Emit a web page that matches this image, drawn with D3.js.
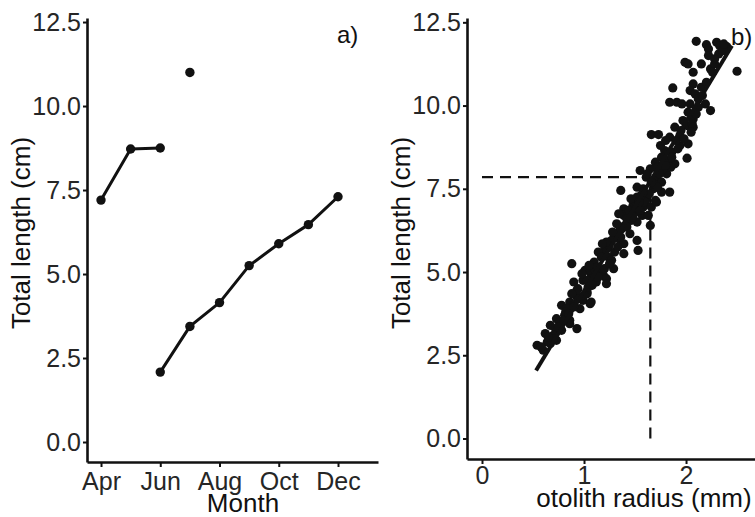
<!DOCTYPE html>
<html>
<head>
<meta charset="utf-8">
<script src="https://cdn.jsdelivr.net/npm/d3@7/dist/d3.min.js"></script>
<style>
  html, body { margin: 0; padding: 0; background: #ffffff; }
  svg { display: block; }
  text { font-family: "Liberation Sans", Arial, sans-serif; }
</style>
</head>
<body>
<svg id="fig" width="755" height="517"></svg>
<script>
// ---------- panel a: mean total length by month ----------
const monthTicks = [4, 6, 8, 10, 12];
const monthTickLabels = ["Apr", "Jun", "Aug", "Oct", "Dec"];

// earlier cohort (connected)
const cohortA_month = [4, 5, 6];
const cohortA_length = [7.2, 8.72, 8.75];
// single sample, not connected
const singleMonth = [7];
const singleLength = [11.0];
// new cohort (connected)
const cohortB_month = [6, 7, 8, 9, 10, 11, 12];
const cohortB_length = [2.08, 3.44, 4.15, 5.25, 5.9, 6.47, 7.3];

const lengthTicks = [0, 2.5, 5, 7.5, 10, 12.5];

// ---------- panel b: total length vs otolith radius ----------
const radiusTicks = [0, 1, 2];
const otolithRadius = [
  2.10, 2.20, 2.22, 2.30, 2.33, 2.22, 2.32, 2.40, 2.50, 1.99,
  2.02, 2.15, 2.07, 2.24, 2.28, 1.87, 2.07, 2.04, 2.09, 1.84,
  1.91, 1.96, 2.04, 2.19, 2.24, 2.02, 2.07, 1.89, 2.01, 2.06,
  2.07, 1.66, 1.73, 1.84, 1.94, 2.02, 1.94, 1.79, 1.86, 2.01,
  1.76, 1.70, 1.79, 1.89, 1.55, 1.65, 1.73, 1.81, 1.61, 1.70,
  1.76, 1.36, 1.52, 1.58, 1.68, 1.76, 1.84, 1.52, 1.61, 1.70,
  1.48, 1.58, 1.39, 1.39, 1.34, 1.52, 1.60, 1.66, 1.71, 1.57,
  1.63, 1.52, 1.65, 1.37, 1.40, 1.30, 1.35, 1.45, 1.27, 1.34,
  1.39, 1.52, 1.53, 1.39, 1.24, 1.19, 1.14, 1.17, 1.24, 1.29,
  0.88, 1.01, 1.06, 1.11, 1.16, 1.19, 1.06, 1.12, 1.22, 0.99,
  0.94, 1.03, 0.93, 0.99, 1.06, 0.86, 0.78, 0.83, 0.96, 0.81,
  0.73, 0.86, 0.76, 0.72, 0.93, 0.67, 0.62, 0.70, 0.73, 0.67,
  0.54, 0.60, 1.03, 1.12, 1.22, 0.93, 1.03, 1.07, 0.83, 0.76,
  0.86, 1.75, 1.80, 1.90, 1.95, 1.82, 1.72, 1.78, 1.85, 1.62,
  1.68, 1.72, 1.64, 1.56, 1.46, 1.44, 1.50, 1.46, 1.42, 1.55,
  1.32, 1.28, 1.22, 1.18, 1.30, 1.27, 1.10, 1.13, 1.05, 0.98,
  0.90, 0.88, 0.90, 0.82, 0.78, 0.70, 0.64, 2.15, 2.12, 2.28,
  2.36, 2.12, 1.97, 2.37, 0.58, 0.65, 0.75, 0.80, 0.85, 0.90,
  0.95, 1.00, 1.04, 1.08, 1.14, 1.20, 1.25, 1.33, 1.36, 1.42,
  1.48, 1.54, 1.58, 1.66, 1.74, 1.80, 1.86, 1.92, 1.98, 2.05,
  2.10, 2.16, 2.20, 2.26
];
const totalLength = [
  11.93, 11.83, 11.70, 11.90, 11.80, 11.50, 11.55, 11.77, 11.03, 11.30,
  11.25, 11.25, 11.00, 11.10, 11.25, 10.53, 10.65, 10.45, 10.35, 10.10,
  10.10, 10.05, 10.05, 10.05, 9.85, 9.80, 9.60, 9.35, 9.40, 9.45,
  9.35, 9.13, 9.13, 9.05, 9.10, 8.85, 8.80, 8.65, 8.60, 8.42,
  8.45, 8.30, 8.25, 8.25, 8.05, 8.10, 8.05, 7.95, 7.85, 7.80,
  7.70, 7.45, 7.55, 7.50, 7.50, 7.40, 7.40, 7.25, 7.20, 7.15,
  7.00, 6.95, 6.90, 6.70, 6.75, 7.05, 7.10, 6.95, 7.10, 6.70,
  6.70, 6.50, 6.40, 6.30, 6.40, 6.15, 6.25, 6.15, 5.95, 6.00,
  5.85, 5.95, 5.65, 5.55, 5.75, 5.60, 5.60, 5.45, 5.45, 5.10,
  5.25, 5.05, 5.00, 5.05, 4.95, 4.90, 4.80, 4.80, 4.80, 4.75,
  4.50, 4.40, 4.25, 4.15, 4.05, 4.10, 4.00, 3.90, 3.90, 3.70,
  3.60, 3.55, 3.40, 3.30, 3.30, 3.40, 3.15, 3.10, 2.95, 2.85,
  2.80, 2.65, 4.75, 4.70, 4.65, 4.45, 4.35, 4.10, 3.65, 3.50,
  3.45, 8.80, 8.95, 8.95, 9.25, 8.35, 8.15, 8.10, 8.15, 7.95,
  7.65, 7.55, 7.35, 7.30, 7.20, 6.85, 6.80, 6.55, 6.60, 6.85,
  6.45, 6.20, 5.90, 5.85, 5.60, 5.35, 5.30, 5.15, 5.20, 4.95,
  4.70, 4.35, 4.00, 3.80, 3.25, 3.00, 2.90, 10.55, 10.20, 11.40,
  11.65, 9.95, 9.55, 11.85, 2.75, 3.05, 3.35, 3.55, 3.75, 3.95,
  4.20, 4.30, 4.55, 4.60, 4.85, 5.10, 5.25, 5.75, 6.05, 6.35,
  6.65, 7.10, 7.40, 7.70, 7.95, 8.20, 8.45, 8.70, 9.00, 9.20,
  9.75, 10.30, 10.70, 11.00
];

// linear fit of length on radius, drawn across its fitted span
const fitIntercept = -0.65;
const fitSlope = 5.08;
const fitSpan = [0.53, 2.45];

// back-calculation guide: radius -> length
const guideRadius = 1.65;
const guideLength = 7.85;

// ---------- drawing ----------
const svg = d3.select("#fig");
const ink = "#111111";
const tickInk = "#262626";

function styleAxis(g) {
  g.select(".domain").attr("stroke", ink).attr("stroke-width", 2.6);
  g.selectAll(".tick line").attr("stroke", ink).attr("stroke-width", 2);
  g.selectAll(".tick text")
    .attr("fill", tickInk)
    .style("font-size", "25px")
    .style("font-family", "'Liberation Sans', Arial, sans-serif");
}

// ----- panel a -----
const xa = d3.scaleLinear().domain([3.527, 13.35]).range([87, 378]);
const ya = d3.scaleLinear().domain([-0.595, 12.62]).range([462, 18]);

const pa = svg.append("g");

pa.append("g")
  .attr("transform", `translate(0,${ya.range()[0]})`)
  .call(d3.axisBottom(xa).tickValues(monthTicks)
    .tickFormat((d, i) => monthTickLabels[i])
    .tickSize(5).tickSizeOuter(0).tickPadding(5))
  .call(styleAxis);

pa.append("g")
  .attr("transform", `translate(${xa.range()[0]},0)`)
  .call(d3.axisLeft(ya).tickValues(lengthTicks)
    .tickFormat(d3.format(".1f"))
    .tickSize(4).tickSizeOuter(0).tickPadding(2))
  .call(styleAxis);

const lineA = d3.line().x(d => xa(d[0])).y(d => ya(d[1]));

[[cohortA_month, cohortA_length], [cohortB_month, cohortB_length]].forEach(([m, l]) => {
  const pts = m.map((v, i) => [v, l[i]]);
  pa.append("path").datum(pts)
    .attr("d", lineA)
    .attr("fill", "none").attr("stroke", ink)
    .attr("stroke-width", 3).attr("stroke-linejoin", "round");
  pa.selectAll(null).data(pts).enter().append("circle")
    .attr("cx", d => xa(d[0])).attr("cy", d => ya(d[1]))
    .attr("r", 4.7).attr("fill", ink);
});

pa.selectAll(null).data(singleMonth.map((v, i) => [v, singleLength[i]])).enter()
  .append("circle")
  .attr("cx", d => xa(d[0])).attr("cy", d => ya(d[1]))
  .attr("r", 4.7).attr("fill", ink);

pa.append("text").attr("x", 337).attr("y", 43)
  .attr("fill", ink).style("font-size", "24px").text("a)");

pa.append("text")
  .attr("transform", `translate(30,233) rotate(-90)`)
  .attr("text-anchor", "middle").attr("fill", ink)
  .style("font-size", "26px").text("Total length (cm)");

pa.append("text").attr("x", 243).attr("y", 512)
  .attr("text-anchor", "middle").attr("fill", ink)
  .style("font-size", "26px").text("Month");

// ----- panel b -----
const xb = d3.scaleLinear().domain([-0.147, 2.676]).range([467, 755]);
const yb = d3.scaleLinear().domain([-0.616, 12.63]).range([459, 18]);

const pb = svg.append("g");

pb.append("g")
  .attr("transform", `translate(0,${yb.range()[0]})`)
  .call(d3.axisBottom(xb).tickValues(radiusTicks)
    .tickFormat(d3.format("d"))
    .tickSize(5).tickSizeOuter(0).tickPadding(2))
  .call(styleAxis);

pb.append("g")
  .attr("transform", `translate(${xb.range()[0]},0)`)
  .call(d3.axisLeft(yb).tickValues(lengthTicks)
    .tickFormat(d3.format(".1f"))
    .tickSize(4).tickSizeOuter(0).tickPadding(2))
  .call(styleAxis);

// dashed guides
const guide = pb.append("g").attr("stroke", ink).attr("stroke-width", 2.2)
  .attr("stroke-dasharray", "11,7").attr("fill", "none");
guide.append("line")
  .attr("x1", xb(0)).attr("x2", xb(guideRadius))
  .attr("y1", yb(guideLength)).attr("y2", yb(guideLength));
guide.append("line")
  .attr("x1", xb(guideRadius)).attr("x2", xb(guideRadius))
  .attr("y1", yb(0)).attr("y2", yb(guideLength));

// observations
pb.selectAll(null).data(otolithRadius.map((r, i) => [r, totalLength[i]])).enter()
  .append("circle")
  .attr("cx", d => xb(d[0])).attr("cy", d => yb(d[1]))
  .attr("r", 4.6).attr("fill", ink);

// fitted line
pb.append("line")
  .attr("x1", xb(fitSpan[0])).attr("y1", yb(fitIntercept + fitSlope * fitSpan[0]))
  .attr("x2", xb(fitSpan[1])).attr("y2", yb(fitIntercept + fitSlope * fitSpan[1]))
  .attr("stroke", ink).attr("stroke-width", 4);

pb.append("text").attr("x", 731).attr("y", 45)
  .attr("fill", ink).style("font-size", "24px").text("b)");

pb.append("text")
  .attr("transform", `translate(410,233) rotate(-90)`)
  .attr("text-anchor", "middle").attr("fill", ink)
  .style("font-size", "26px").text("Total length (cm)");

pb.append("text").attr("x", 644).attr("y", 507)
  .attr("text-anchor", "middle").attr("fill", ink)
  .style("font-size", "26px").text("otolith radius (mm)");
</script>
</body>
</html>
